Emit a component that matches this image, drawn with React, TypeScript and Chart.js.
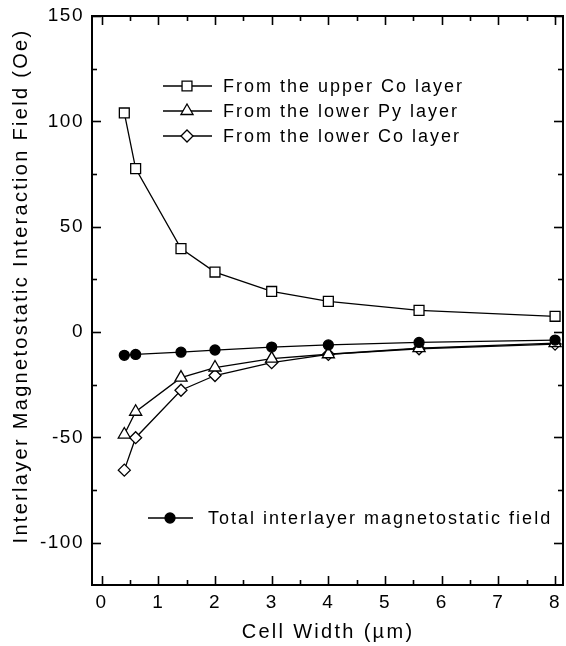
import React, { useEffect, useRef } from 'react';
import { Chart, registerables } from 'chart.js';
import { drawPoint } from 'chart.js/helpers';

Chart.register(...registerables);

const cellWidths = [0.4, 0.6, 1.4, 2, 3, 4, 5.6, 8];
const upperCo = [104, 77.6, 39.6, 28.5, 19.3, 14.6, 10.3, 7.5];
const lowerPy = [-48.6, -37.8, -21.6, -16.8, -12.6, -10.5, -7.6, -5.2];
const lowerCo = [-65.5, -50.1, -27.6, -20.6, -14.5, -10.6, -7.9, -5.7];
const totalField = [-11, -10.6, -9.5, -8.5, -7.1, -6.1, -4.9, -3.8];

const seriesLabels = [
  'Total interlayer magnetostatic field',
  'From the upper Co layer',
  'From the lower Py layer',
  'From the lower Co layer',
];
const xTitle = 'Cell Width (\u00b5m)';
const yTitle = 'Interlayer Magnetostatic Interaction Field (Oe)';

const FONT = '"Liberation Sans", Arial, Helvetica, sans-serif';

const pts = (ys: number[]) => cellWidths.map((x, i) => ({ x, y: ys[i] }));

const decorPlugin = {
  id: 'decor',
  beforeDraw(chart: any) {
    chart.ctx.letterSpacing = '1.5px';
  },
  afterDraw(chart: any) {
    const ctx = chart.ctx;
    const { left, right, top, bottom } = chart.chartArea;
    const xs = chart.scales.x;
    const ys = chart.scales.y;
    ctx.save();
    ctx.strokeStyle = '#000';
    ctx.fillStyle = '#000';
    ctx.lineWidth = 2;
    ctx.strokeRect(left, top, right - left, bottom - top);

    ctx.lineWidth = 1.6;
    const line = (x1: number, y1: number, x2: number, y2: number) => {
      ctx.beginPath();
      ctx.moveTo(x1, y1);
      ctx.lineTo(x2, y2);
      ctx.stroke();
    };
    for (let v = 0; v <= 8.001; v += 0.5) {
      const px = Math.round(xs.getPixelForValue(v)) + 0.5;
      const len = Math.abs(v - Math.round(v)) < 1e-6 ? 9 : 5;
      line(px, bottom, px, bottom - len);
      line(px, top, px, top + len);
    }
    for (let v = -100; v <= 150; v += 25) {
      const py = Math.round(ys.getPixelForValue(v)) + 0.5;
      const len = v % 50 === 0 ? 9 : 5;
      line(left, py, left + len, py);
      line(right, py, right - len, py);
    }

    // legends
    ctx.letterSpacing = '2px';
    ctx.font = `18px ${FONT}`;
    ctx.textBaseline = 'middle';
    ctx.textAlign = 'left';
    const rows = [
      { ds: 1, y: 86, x1: 163, x2: 212, mx: 187, tx: 223 },
      { ds: 2, y: 111, x1: 163, x2: 212, mx: 187, tx: 223 },
      { ds: 3, y: 136, x1: 163, x2: 212, mx: 187, tx: 223 },
      { ds: 0, y: 518, x1: 148, x2: 193, mx: 170, tx: 208 },
    ];
    for (const r of rows) {
      const d = chart.data.datasets[r.ds];
      ctx.lineWidth = 1.3;
      ctx.strokeStyle = '#000';
      line(r.x1, r.y, r.x2, r.y);
      ctx.fillStyle = d.pointBackgroundColor;
      ctx.strokeStyle = '#000';
      ctx.lineWidth = d.pointBorderWidth;
      drawPoint(ctx, { pointStyle: d.pointStyle, radius: d.pointRadius, rotation: 0, borderWidth: d.pointBorderWidth }, r.mx, r.y);
      ctx.fillStyle = '#000';
      ctx.fillText(d.label, r.tx, r.y + 1);
    }

    // axis titles
    ctx.font = `20px ${FONT}`;
    ctx.letterSpacing = '2.3px';
    ctx.textAlign = 'center';
    ctx.fillText(xTitle, 328, 632);
    ctx.save();
    ctx.translate(21, 286);
    ctx.rotate(-Math.PI / 2);
    ctx.fillText(yTitle, 0, 0);
    ctx.restore();
    ctx.restore();
  },
};

export default function App() {
  const ref = useRef<HTMLCanvasElement>(null);
  useEffect(() => {
    if (!ref.current) return;
    const common = {
      borderColor: '#000',
      borderWidth: 1.3,
      pointBorderColor: '#000',
      pointBorderWidth: 1.3,
      showLine: true,
      fill: false,
    };
    const chart = new Chart(ref.current, {
      type: 'scatter',
      data: {
        datasets: [
          { ...common, label: seriesLabels[0], data: pts(totalField), pointStyle: 'circle', pointRadius: 5, pointBackgroundColor: '#000' },
          { ...common, label: seriesLabels[1], data: pts(upperCo), pointStyle: 'rect', pointRadius: 7, pointBackgroundColor: '#fff' },
          { ...common, label: seriesLabels[2], data: pts(lowerPy), pointStyle: 'triangle', pointRadius: 7, pointBackgroundColor: '#fff' },
          { ...common, label: seriesLabels[3], data: pts(lowerCo), pointStyle: 'rectRot', pointRadius: 6, pointBackgroundColor: '#fff' },
        ],
      },
      options: {
        animation: false,
        responsive: false,
        devicePixelRatio: 1,
        layout: { autoPadding: false, padding: { top: 16, right: 3, left: 0, bottom: 0 } },
        plugins: { legend: { display: false }, tooltip: { enabled: false } },
        scales: {
          x: {
            type: 'linear',
            min: -0.17,
            max: 8.14,
            grid: { display: false, drawTicks: false },
            border: { display: false },
            ticks: {
              stepSize: 1,
              includeBounds: false,
              color: '#000',
              padding: 6,
              font: { family: FONT, size: 19 },
              maxRotation: 0,
            },
            afterFit: (s: any) => { s.height = 61; s.paddingLeft = 0; s.paddingRight = 0; },
          },
          y: {
            type: 'linear',
            min: -120,
            max: 150,
            grid: { display: false, drawTicks: false },
            border: { display: false },
            ticks: {
              stepSize: 50,
              includeBounds: false,
              color: '#000',
              padding: 8,
              font: { family: FONT, size: 19 },
            },
            afterFit: (s: any) => { s.width = 92; s.paddingTop = 0; s.paddingBottom = 0; },
          },
        },
      },
      plugins: [decorPlugin],
    } as any);
    return () => chart.destroy();
  }, []);
  return (
    <div style={{ position: 'absolute', left: 0, top: 0, width: 566, height: 646, background: '#fff' }}>
      <canvas ref={ref} width={566} height={646} style={{ display: 'block' }} />
    </div>
  );
}
